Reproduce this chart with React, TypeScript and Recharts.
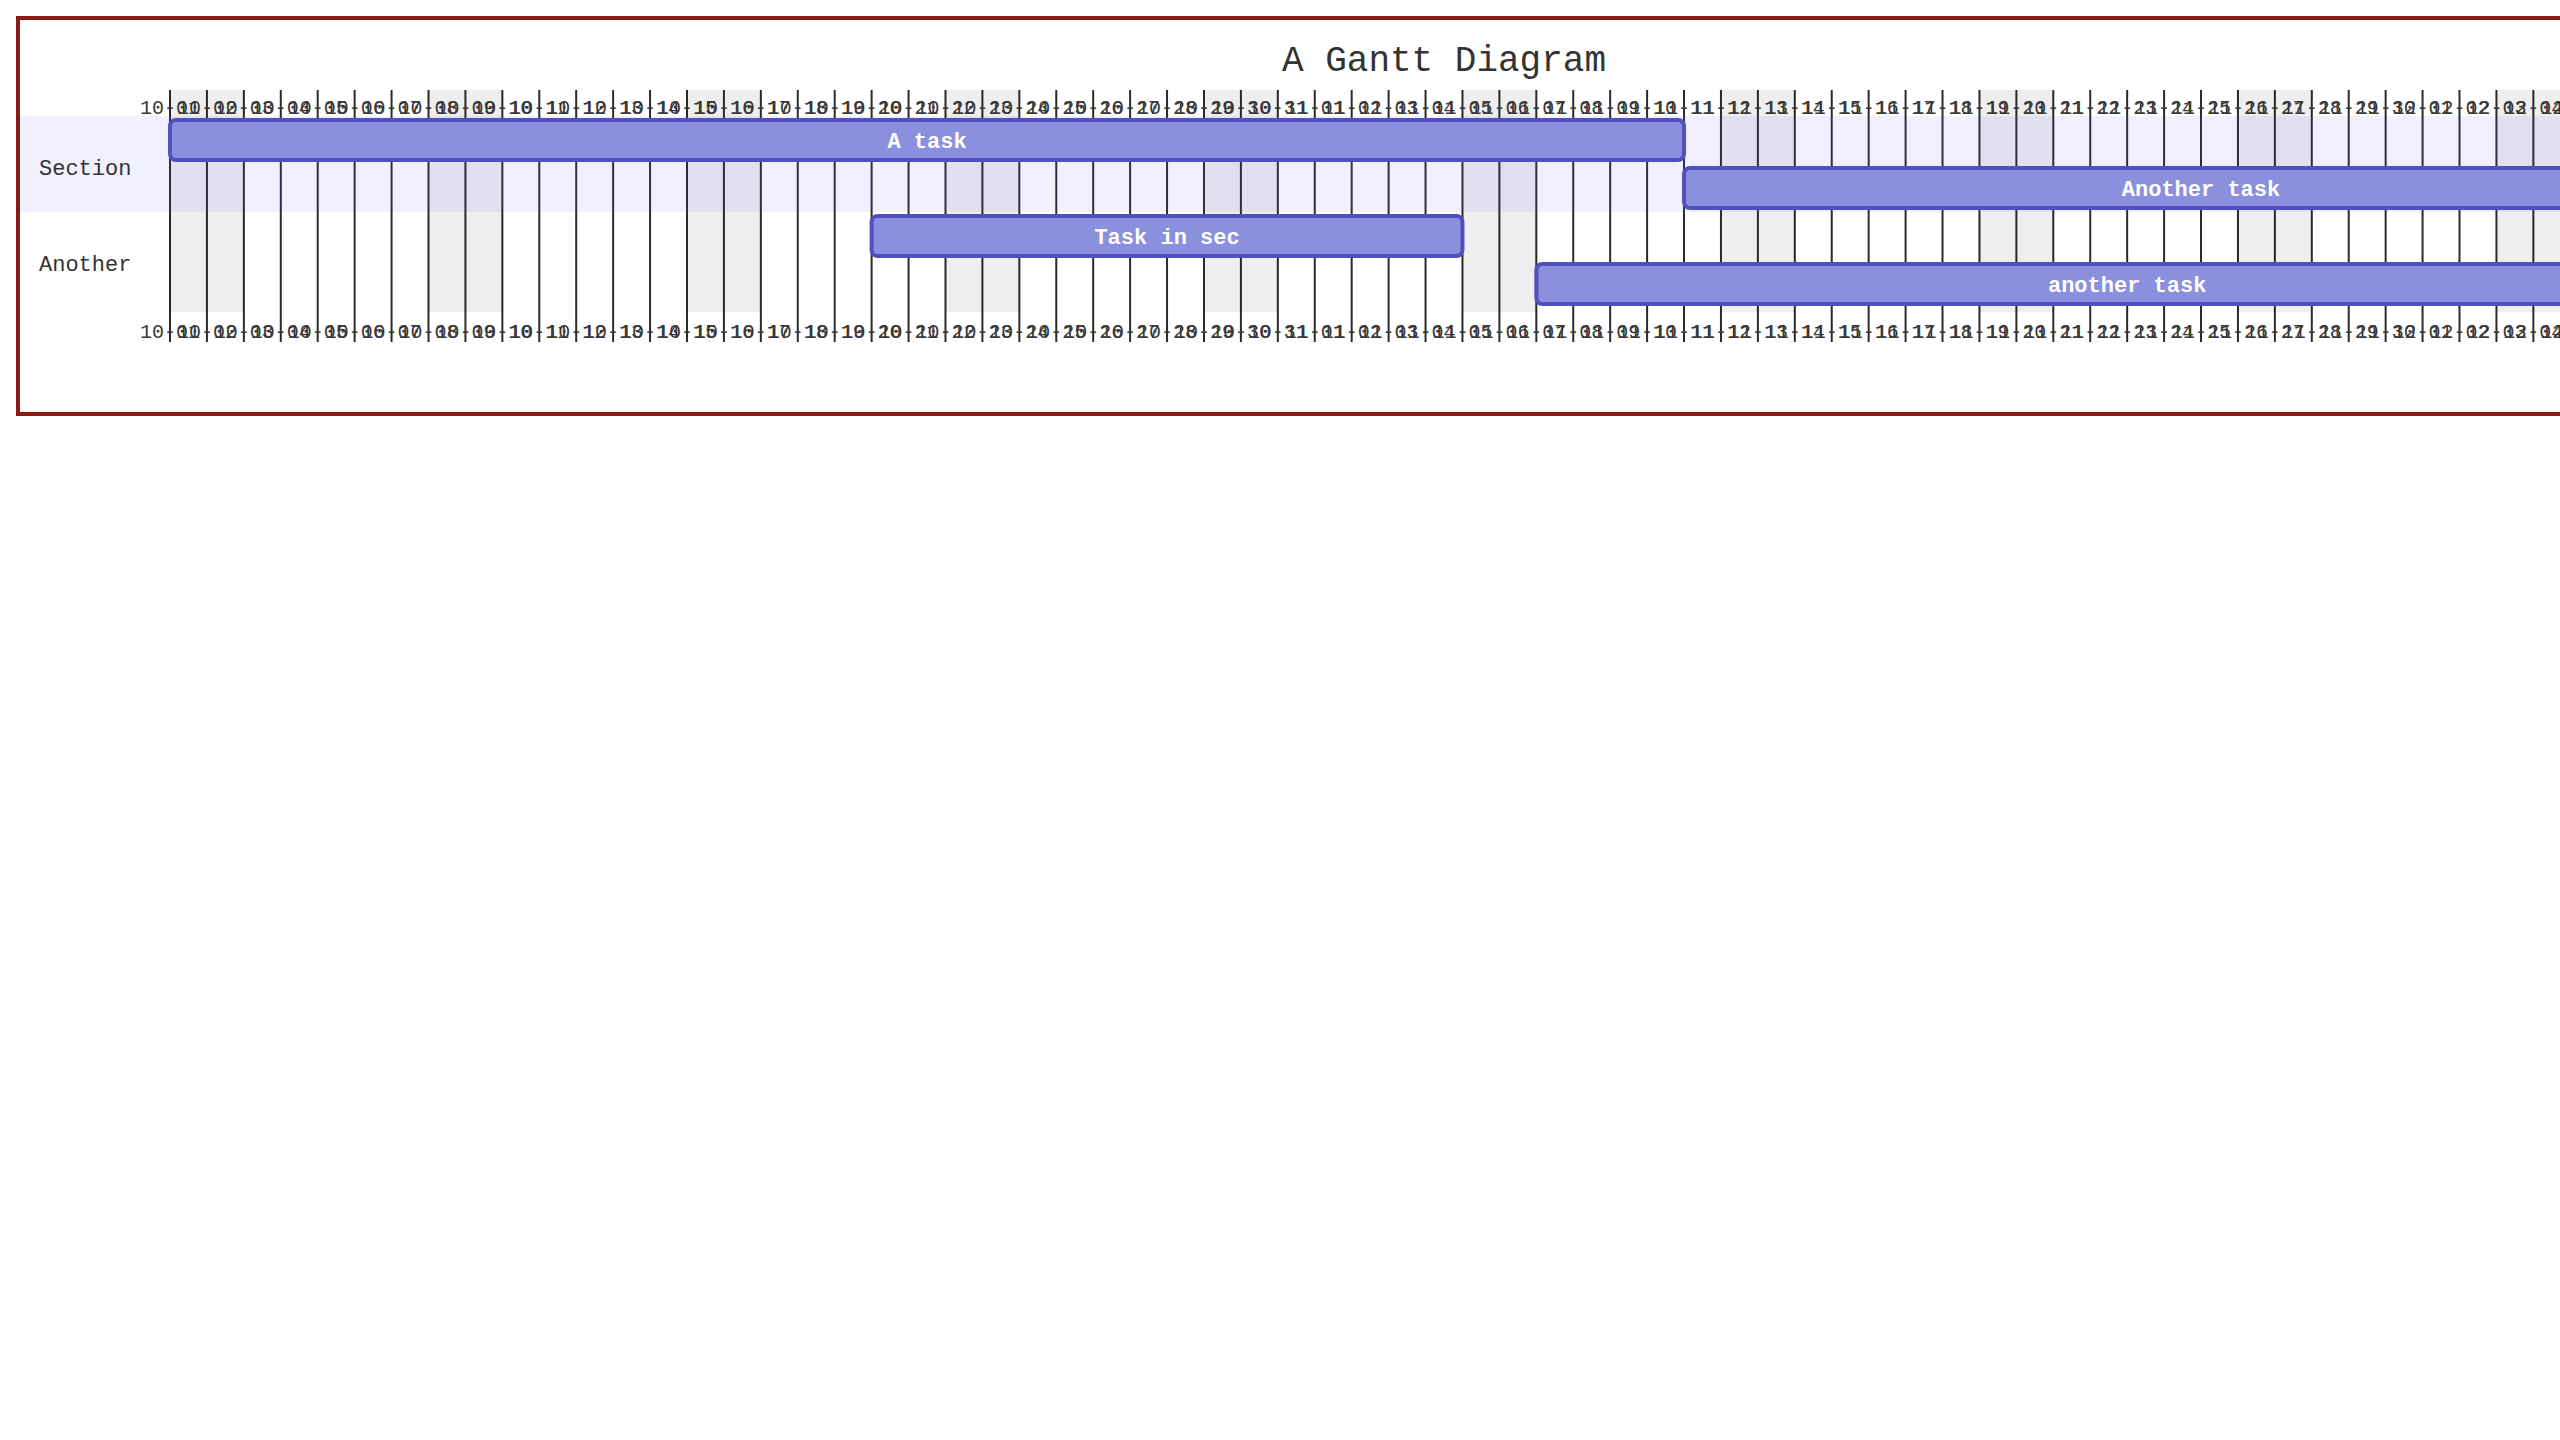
import {
  Bar,
  BarChart,
  CartesianGrid,
  LabelList,
  ReferenceArea,
  XAxis,
  YAxis,
} from "recharts";

const FONT = '"Courier New", "Liberation Mono", Courier, monospace';

// axis range (first and last day of the time scale)
const START = "2022-10-01";
const END = "2022-12-09";

const taskNames = ["A task", "Another task", "Task in sec", "another task"];
const taskStarts = ["2022-10-01", "2022-11-11", "2022-10-20", "2022-11-07"];
const taskEnds = ["2022-11-11", "2022-12-09", "2022-11-05", "2022-12-09"];

const sectionNames = ["Section", "Another"];
const sectionFirstTask = ["A task", "Task in sec"];
const sectionLastTask = ["Another task", "another task"];
const sectionFills = ["#6666ff", "#ffffff"];
const sectionOpacity = [0.098, 0];

// saturdays of the excluded weekends
const weekendStarts = [
  "2022-10-01",
  "2022-10-08",
  "2022-10-15",
  "2022-10-22",
  "2022-10-29",
  "2022-11-05",
  "2022-11-12",
  "2022-11-19",
  "2022-11-26",
  "2022-12-03",
];

const DAY = 86400000;
const t0 = Date.parse(START + "T00:00:00Z");
const dayOf = (iso: string) => (Date.parse(iso + "T00:00:00Z") - t0) / DAY;
const lastDay = dayOf(END);

const ticks = Array.from({ length: lastDay + 1 }, (_, i) => i);

const fmtDay = (d: number) => {
  const dt = new Date(t0 + d * DAY);
  const mm = String(dt.getUTCMonth() + 1).padStart(2, "0");
  const dd = String(dt.getUTCDate()).padStart(2, "0");
  return `${mm}-${dd}`;
};

const data = taskNames.map((name, i) => ({
  name,
  range: [dayOf(taskStarts[i]), dayOf(taskEnds[i])],
}));

const W = 2848;
const H = 392;
const AXIS_H = 40;
const M = { top: 70, right: 150, bottom: 60, left: 150 };
const PLOT_H = H - M.top - M.bottom - AXIS_H;
// section band reaches the left edge of the svg
const PAD_DAYS = (M.left * lastDay) / (W - M.left - M.right);

// one tick draws the label above the grid and the one below it
const DayTick = ({ x, y, payload }: any) => {
  const label = fmtDay(payload.value);
  const txt = { textAnchor: "middle" as const, fontSize: 20, fontFamily: FONT, fill: "#383838" };
  return (
    <g>
      <text x={x} y={y - PLOT_H + 24} {...txt}>
        {label}
      </text>
      <line x1={x} x2={x} y1={y} y2={y + 30} stroke="#2a2a2a" strokeWidth={2} />
      <text x={x} y={y + 26} {...txt}>
        {label}
      </text>
    </g>
  );
};

const SectionLabel = (props: any) => {
  const vb = props.viewBox || {};
  return (
    <text
      x={vb.x + 19}
      y={vb.y + vb.height / 2 + 11}
      fontSize={22}
      fontFamily={FONT}
      fill="#333"
    >
      {props.text}
    </text>
  );
};

export default function App() {
  return (
    <div
      style={{
        position: "fixed",
        left: 0,
        top: 0,
        width: 2560,
        height: 1440,
        overflow: "hidden",
        background: "#fff",
      }}
    >
      <div
        style={{
          position: "absolute",
          left: 16,
          top: 16,
          width: W,
          height: H,
          border: "4px solid #8b1a14",
        }}
      >
        <div
          style={{
            position: "absolute",
            left: 0,
            top: 24,
            width: W,
            textAlign: "center",
            fontSize: 36,
            lineHeight: "36px",
            fontFamily: FONT,
            color: "#333",
          }}
        >
          A Gantt Diagram
        </div>
        <BarChart width={W} height={H} data={data} layout="vertical" margin={M}>
          <CartesianGrid horizontal={false} stroke="#2a2a2a" strokeWidth={2} />
          <XAxis
            type="number"
            dataKey="range"
            domain={[0, lastDay]}
            ticks={ticks}
            interval={0}
            height={AXIS_H}
            tickSize={0}
            tickMargin={0}
            axisLine={false}
            tickLine={false}
            tick={DayTick}
          />
          <YAxis type="category" dataKey="name" hide padding={{ top: 26, bottom: 4 }} />
          <YAxis yAxisId="bg" type="number" domain={[0, 1]} hide />
          {weekendStarts.map((s) => (
            <ReferenceArea
              key={s}
              yAxisId="bg"
              x1={dayOf(s)}
              x2={dayOf(s) + 2}
              fill="#000"
              fillOpacity={0.066}
              stroke="none"
              ifOverflow="visible"
            />
          ))}
          {sectionNames.map((s, i) => (
            <ReferenceArea
              key={s}
              x1={-PAD_DAYS}
              x2={lastDay + PAD_DAYS}
              y1={sectionFirstTask[i]}
              y2={sectionLastTask[i]}
              fill={sectionFills[i]}
              fillOpacity={sectionOpacity[i]}
              stroke="none"
              ifOverflow="visible"
              label={<SectionLabel text={s} />}
            />
          ))}
          <Bar
            dataKey="range"
            barSize={40}
            fill="#8a90dd"
            stroke="#534fbc"
            strokeWidth={4}
            radius={6}
            isAnimationActive={false}
          >
            <LabelList
              dataKey="name"
              position="center"
              fill="#fff"
              fontSize={22}
              fontWeight="bold"
              fontFamily={FONT}
            />
          </Bar>
        </BarChart>
      </div>
    </div>
  );
}
